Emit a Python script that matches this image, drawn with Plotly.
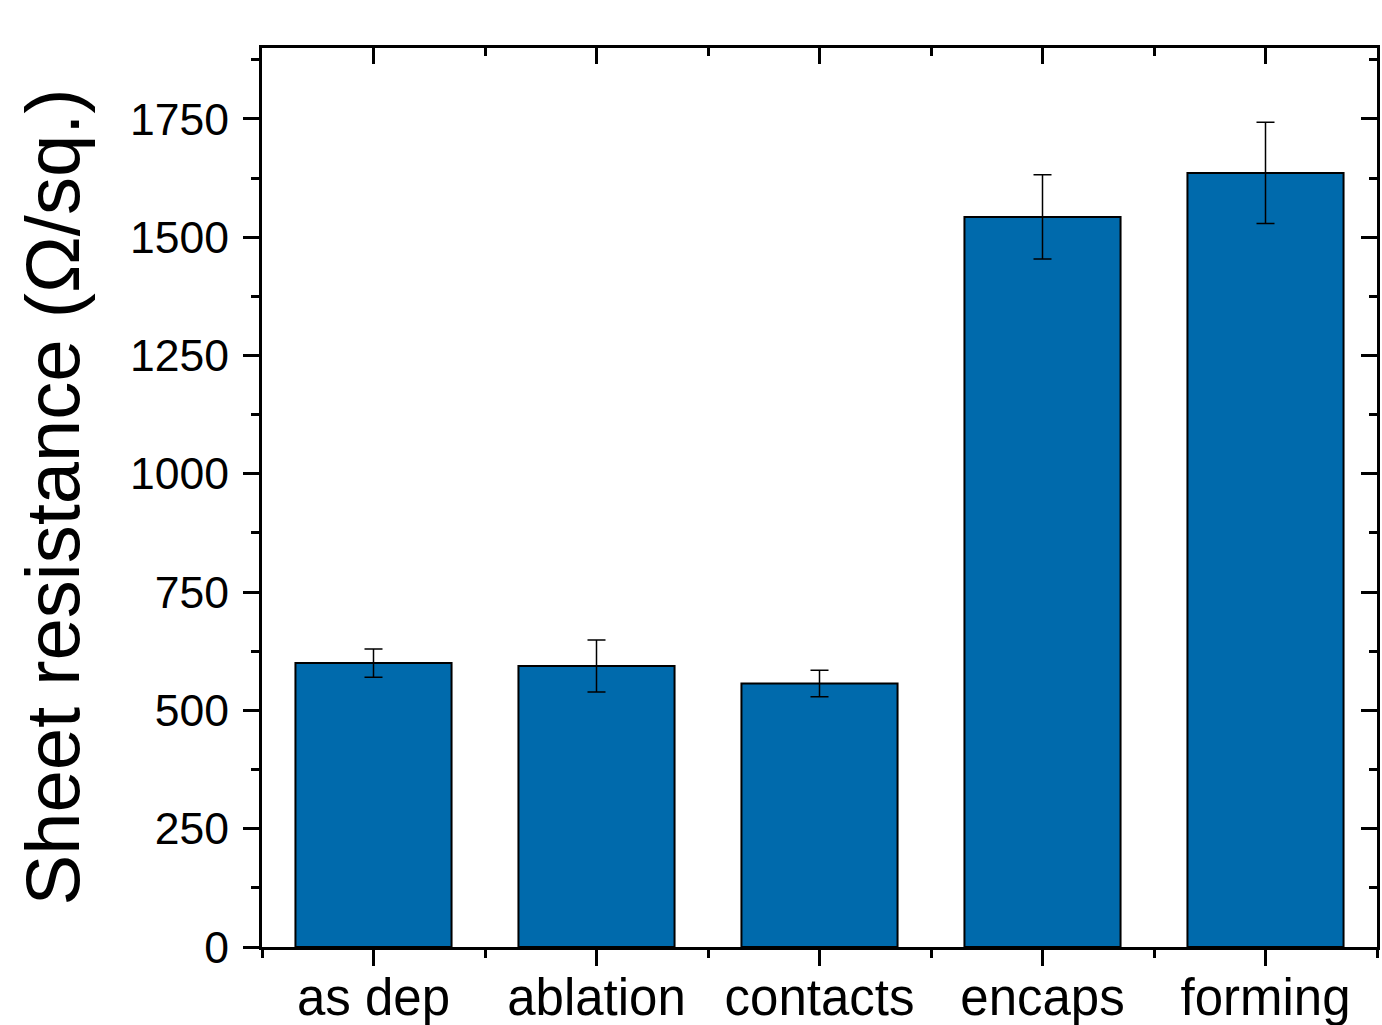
import plotly.graph_objects as go

categories = ["as dep", "ablation", "contacts", "encaps", "forming"]
values = [600, 594, 557, 1543, 1636]
errors = [30, 55, 28, 89, 107]
y_tick_vals = [0, 250, 500, 750, 1000, 1250, 1500, 1750]

FONT = "Liberation Sans, Arial, sans-serif"
BAR_COLOR = "#006AAC"

idx = list(range(len(categories)))
minor_x = [i - 0.5 for i in range(len(categories) + 1)]

fig = go.Figure()
fig.add_trace(go.Bar(
    x=idx, y=values, width=0.7,
    marker=dict(color=BAR_COLOR, line=dict(color="black", width=2)),
    error_y=dict(type="data", array=errors, visible=True, color="black",
                 thickness=1.5, width=9),
    showlegend=False,
))
# invisible trace to carry the mirrored (inside-tick) axes
fig.add_trace(go.Scatter(x=[idx[0]], y=[0], xaxis="x2", yaxis="y2",
                         mode="markers", marker=dict(opacity=0),
                         showlegend=False, hoverinfo="skip"))

xr = [-0.5, len(categories) - 0.5]
yr = [0, 1900]

fig.update_layout(
    width=1382, height=1025,
    margin=dict(l=262, r=5, t=48, b=78, autoexpand=False),
    paper_bgcolor="white", plot_bgcolor="white",
    font=dict(family=FONT, color="black"),
    bargap=0.3,
    xaxis=dict(
        range=xr, tickmode="array", tickvals=idx, ticktext=categories,
        ticks="outside", ticklen=16, tickwidth=3, tickcolor="black",
        showline=True, linewidth=3, linecolor="black", mirror=True,
        showgrid=False, zeroline=False,
        tickfont=dict(size=51, family=FONT),
        ticklabelstandoff=-12,
        minor=dict(tickmode="array", tickvals=minor_x, ticks="outside",
                   ticklen=8, tickwidth=3, tickcolor="black", showgrid=False),
    ),
    yaxis=dict(
        range=yr, tickmode="array", tickvals=y_tick_vals,
        ticks="outside", ticklen=16, tickwidth=3, tickcolor="black",
        showline=True, linewidth=3, linecolor="black", mirror=True,
        showgrid=False, zeroline=False,
        tickfont=dict(size=44.5, family=FONT),
        ticklabelstandoff=5,
        minor=dict(dtick=125, tick0=0, ticks="outside", ticklen=8,
                   tickwidth=3, tickcolor="black", showgrid=False),
    ),
    xaxis2=dict(
        range=xr, overlaying="x", side="top", tickmode="array", tickvals=idx,
        showticklabels=False, ticks="inside", ticklen=16, tickwidth=3,
        tickcolor="black", showline=False, showgrid=False, zeroline=False,
        minor=dict(tickmode="array", tickvals=minor_x, ticks="inside",
                   ticklen=8, tickwidth=3, tickcolor="black", showgrid=False),
    ),
    yaxis2=dict(
        range=yr, overlaying="y", side="right", tickmode="array",
        tickvals=y_tick_vals, showticklabels=False, ticks="inside",
        ticklen=16, tickwidth=3, tickcolor="black", showline=False,
        showgrid=False, zeroline=False,
        minor=dict(dtick=125, tick0=0, ticks="inside", ticklen=8,
                   tickwidth=3, tickcolor="black", showgrid=False),
    ),
    annotations=[dict(
        text="Sheet resistance (Ω/sq.)", xref="paper", yref="paper",
        x=-(261 - 51) / 1115, y=0.5, xanchor="center", yanchor="middle",
        textangle=-90, showarrow=False, font=dict(size=76, family=FONT),
    )],
)

fig.write_html(
    "out.html",
    config={"displayModeBar": False},
    post_script="document.body.style.margin='0';document.body.style.overflow='hidden';",
)
